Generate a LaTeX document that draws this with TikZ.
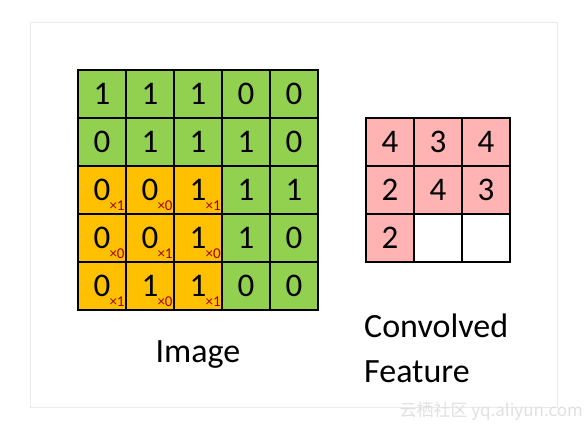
\documentclass[tikz,border=0pt]{standalone}
\usepackage{fontspec}
\setmainfont{Carlito}
\newfontfamily\cjkfont{Noto Sans CJK SC}
\definecolor{imggreen}{HTML}{92D050}
\definecolor{imgorange}{HTML}{FFC000}
\definecolor{featpink}{HTML}{FFB3B3}
\definecolor{wtred}{HTML}{A00000}
\begin{document}
\begin{tikzpicture}[x=1pt, y=-1pt,
  cell/.style={draw, line width=1.6pt, minimum size=48pt, inner sep=0pt, font=\fontsize{33}{33}\selectfont},
  wt/.style={text=wtred, inner sep=0pt, anchor=south east, font=\fontsize{15}{15}\selectfont},
  caption/.style={inner sep=0pt, font=\fontsize{34}{45}\selectfont}]
\useasboundingbox (0,0) rectangle (588,431);
\draw[black!8, line width=0.8pt] (30,22) rectangle (557,407);
% image
\foreach \r/\row in {0/{1/imggreen,1/imggreen,1/imggreen,0/imggreen,0/imggreen},
                     1/{0/imggreen,1/imggreen,1/imggreen,1/imggreen,0/imggreen},
                     2/{0/imgorange,0/imgorange,1/imgorange,1/imggreen,1/imggreen},
                     3/{0/imgorange,0/imgorange,1/imgorange,1/imggreen,0/imggreen},
                     4/{0/imgorange,1/imgorange,1/imgorange,0/imggreen,0/imggreen}}
  \foreach \v/\f [count=\c from 0] in \row
    \node[cell, fill=\f] (img-\r-\c) at ({102+48*\c},{94+48*\r}) {\v};
% kernel weights
\foreach \r/\wl in {2/{1,0,1},3/{0,1,0},4/{1,0,1}}
  \foreach \w [count=\c from 0] in \wl
    \node[wt] (wt-\r-\c) at ([xshift=-2pt,yshift=4pt]img-\r-\c.south east) {×\w};
% convolved feature
\foreach \r/\row in {0/{4/featpink,3/featpink,4/featpink},
                     1/{2/featpink,4/featpink,3/featpink},
                     2/{2/featpink,/white,/white}}
  \foreach \v/\f [count=\c from 0] in \row
    \node[cell, fill=\f] (feat-\r-\c) at ({390+48*\c},{142+48*\r}) {\v};
\node[caption, anchor=base] (imgcap) at (198,362) {Image};
\node[caption, align=left, anchor=north west] (featcap) at (364,314) {Convolved\\Feature};
\node[text=black!12, font=\cjkfont\fontsize{17}{17}\selectfont, anchor=east, inner sep=0pt] (mark) at (583,411) {云栖社区 yq.aliyun.com};
\end{tikzpicture}
\end{document}
